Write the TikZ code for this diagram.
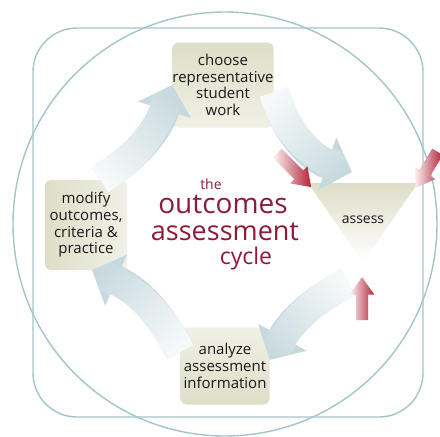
\documentclass[tikz,border=0pt]{standalone}
\usepackage{fontspec}
\setmainfont{Open Sans}
\usetikzlibrary{arrows.meta,shapes.arrows,fadings}
\definecolor{framecol}{RGB}{163,196,201}
\definecolor{flowcol}{RGB}{198,217,222}
\definecolor{boxcol}{RGB}{222,222,200}
\definecolor{titlecol}{RGB}{140,26,56}
\definecolor{hotcol}{RGB}{178,36,56}
\definecolor{inkcol}{RGB}{25,25,25}
\tikzfading[name=tailfade,left color=transparent!12,middle color=transparent!100,right color=transparent!100]

\begin{document}
\begin{tikzpicture}[x=1pt,y=-1pt,
  stepbox/.style={rounded corners=6pt,inner sep=0pt,align=center,text=inkcol,font=\fontsize{15}{16.7}\selectfont},
  flow/.style={line width=30pt,draw=flowcol,-{Triangle[width=54pt,length=26pt]},
    postaction={draw=white,-,path fading=tailfade,fading angle=#1}},
  hot/.style={single arrow,draw=none,inner sep=6pt,single arrow head extend=6pt,single arrow tip angle=70,left color=hotcol!5,right color=hotcol},
  title/.style={text=titlecol,inner sep=0pt,anchor=base}]

\useasboundingbox (0,0) rectangle (440,437);

%%% FRAME %%%
\draw [framecol,line width=1.4pt,rounded corners=44pt] (33,28) rectangle (423,417);
\draw [framecol,line width=1.4pt] (225,224) circle (212);

%%% STEPS %%%
\node [stepbox,minimum width=88pt,minimum height=85pt,top color=boxcol,bottom color=boxcol!45] at (223,85) (choose) {choose\\representative\\student\\work};
\node [stepbox,minimum width=82pt,minimum height=90pt,left color=boxcol,right color=boxcol!45] at (86,225) (modify) {modify\\outcomes,\\criteria \&\\practice};
\node [stepbox,minimum width=89pt,minimum height=77pt,top color=boxcol!45,bottom color=boxcol] at (225,366) (analyze) {analyze\\assessment\\information};

% assess funnel
\coordinate (tl) at (308,183);
\coordinate (tr) at (418,183);
\coordinate (ap) at (363,262);
\shade [top color=boxcol,bottom color=white] (tl) -- (tr) -- (ap) -- cycle;
\node [text=inkcol,font=\fontsize{14}{14}\selectfont] at (363,220) (assess) {assess};

%%% TITLE %%%
\node [title,font=\fontsize{14}{14}\selectfont] at (211,189) (the) {the};
\node [title,font=\fontsize{28}{28}\selectfont] at (223,213) (outcomes) {outcomes};
\node [title,font=\fontsize{27}{27}\selectfont] at (225,240) (assessment) {assessment};
\node [title,font=\fontsize{23}{23}\selectfont] at (246,264) (cycle) {cycle};

%%% CYCLE ARROWS %%%
\coordinate (tin) at (352,172);
\coordinate (tout) at (348,282);
\draw [flow=50] ([xshift=14pt]modify.north) to [bend right=20] (choose.west);
\draw [flow=-43] ([yshift=-7pt]choose.east) to [bend right=27] (tin);
\draw [flow=-137] (tout) to [bend right=16] ([yshift=6pt]analyze.east);
\draw [flow=139] ([yshift=14pt]analyze.west) to [bend right=20] ([xshift=6pt]modify.south);

%%% INPUT ARROWS %%%
\node [hot,minimum height=48pt,rotate=-45] at (291,167) (hotleft) {};
\node [hot,minimum height=42pt,rotate=-121] at (429,166) (hotright) {};
\node [hot,minimum height=43pt,rotate=90] at (362,303) (hotbelow) {};
\end{tikzpicture}
\end{document}
